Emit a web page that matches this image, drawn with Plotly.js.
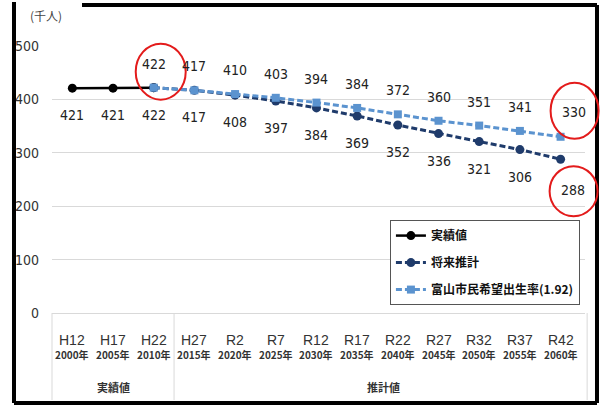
<!DOCTYPE html>
<html><head><meta charset="utf-8">
<script src="https://cdn.plot.ly/plotly-3.0.1.min.js"></script>
<style>html,body{margin:0;padding:0;background:#fff}#c{width:605px;height:412px}</style>
</head><body><div id="c"></div>
<script>
const categories = ["H12","H17","H22","H27","R2","R7","R12","R17","R22","R27","R32","R37","R42"];
const yearLabels = ["2000年","2005年","2010年","2015年","2020年","2025年","2030年","2035年","2040年","2045年","2050年","2055年","2060年"];
const actual = [421, 421, 422, null, null, null, null, null, null, null, null, null, null];
const projection = [null, null, 422, 417, 408, 397, 384, 369, 352, 336, 321, 306, 288];
const hope = [null, null, 422, 417, 410, 403, 394, 384, 372, 360, 351, 341, 330];
const seriesNames = ["実績値", "将来推計", "富山市民希望出生率(1.92)"];
const groupLabels = ["実績値", "推計値"];
const yTicks = [0, 100, 200, 300, 400, 500];

const cjk = "'Noto Sans CJK JP', sans-serif";
const narrow = "'Liberation Sans Narrow', 'DejaVu Sans Condensed', sans-serif";
const cNavy = "#1f3b6b", cLight = "#5b93cf";
const xRange = [-0.5, 12.6], yRange = [0, 500];

const traces = [
  {x: categories, y: actual, name: seriesNames[0], mode: "lines+markers", legendgroup: "a",
   line: {color: "#000", width: 2.5}, marker: {symbol: "circle", size: 9, color: "#000"}},
  {x: categories, y: projection, name: seriesNames[1], mode: "lines+markers", legendgroup: "b",
   line: {color: cNavy, width: 3, dash: "6px,3px"}, marker: {symbol: "circle", size: 9, color: cNavy}},
  {x: categories, y: hope, name: seriesNames[2], mode: "lines+markers", legendgroup: "c",
   line: {color: cLight, width: 3, dash: "6px,3px"}, marker: {symbol: "square", size: 8, color: cLight}}
];

const ann = [];
const lblFont = {family: narrow, size: 14, color: "#222"};
actual.forEach((v, i) => { if (v !== null) ann.push({x: categories[i], y: v, xref: "x", yref: "y", text: String(v), showarrow: false, yshift: -27, font: lblFont}); });
projection.forEach((v, i) => { if (v !== null && i > 2) ann.push({x: categories[i], y: v, xref: "x", yref: "y", text: String(v), showarrow: false, yshift: (i === 12 ? -31 : -27), xshift: (i === 12 ? 12 : 0), font: lblFont}); });
hope.forEach((v, i) => { if (v !== null) ann.push({x: categories[i], y: v, xref: "x", yref: "y", text: String(v), showarrow: false, yshift: (i === 12 ? 25 : 24), xshift: (i === 12 ? 13 : 0), font: lblFont}); });
categories.forEach((c, i) => {
  ann.push({x: i, y: -0.101, xref: "x", yref: "paper", xanchor: "center", yanchor: "middle", text: c, showarrow: false, font: {family: "'Liberation Sans', Arial, sans-serif", size: 14, color: "#333"}});
  ann.push({x: i, y: -0.157, xref: "x", yref: "paper", xanchor: "center", yanchor: "middle", text: yearLabels[i], showarrow: false, font: {family: cjk, size: 10, color: "#333", weight: "bold"}});
});
ann.push({x: 1, y: -0.277, xref: "x", yref: "paper", xanchor: "center", yanchor: "middle", text: groupLabels[0], showarrow: false, font: {family: cjk, size: 11, color: "#333", weight: "bold"}});
ann.push({x: 7.65, y: -0.277, xref: "x", yref: "paper", xanchor: "center", yanchor: "middle", text: groupLabels[1], showarrow: false, font: {family: cjk, size: 11, color: "#333", weight: "bold"}});
ann.push({x: -0.011, y: 1.116, xref: "paper", yref: "paper", xanchor: "center", yanchor: "middle", text: "(千人)", showarrow: false, font: {family: cjk, size: 12, color: "#444"}});

// paper-fraction helpers using the axis ranges (so highlight rings are not clipped)
const px = i => (i - xRange[0]) / (xRange[1] - xRange[0]);
const py = v => (v - yRange[0]) / (yRange[1] - yRange[0]);

const red = {color: "#e31b1b", width: 2};
const shapes = [
  // frame
  {type: "line", xref: "paper", yref: "paper", x0: -0.0713, x1: -0.0713, y0: 1.165, y1: -0.337, line: {color: "#000", width: 4}},
  {type: "line", xref: "paper", yref: "paper", x0: 0.0563, x1: 1.0225, y0: 1.1536, y1: 1.1536, line: {color: "#000", width: 4}},
  {type: "line", xref: "paper", yref: "paper", x0: 1.0225, x1: 1.0225, y0: 1.1536, y1: -0.337, line: {color: "#000", width: 4}},
  {type: "line", xref: "paper", yref: "paper", x0: -0.0713, x1: 1.0225, y0: -0.337, y1: -0.337, line: {color: "#000", width: 4}},
  // table lines
  {type: "line", xref: "paper", yref: "paper", x0: 0, x1: 0, y0: 0, y1: -0.326, line: {color: "#d9d9d9", width: 1}},
  {type: "line", xref: "x", yref: "paper", x0: 2.5, x1: 2.5, y0: 0, y1: -0.326, line: {color: "#d9d9d9", width: 1}},
  {type: "line", xref: "paper", yref: "paper", x0: 1.004, x1: 1.004, y0: 0, y1: -0.326, line: {color: "#d9d9d9", width: 1}},
  // red circles
  {type: "circle", xref: "paper", yref: "paper", xsizemode: "pixel", ysizemode: "pixel", xanchor: px(2), yanchor: py(hope[2]), x0: -18, x1: 32, y0: -12, y1: 44, line: red},
  {type: "circle", xref: "paper", yref: "paper", xsizemode: "pixel", ysizemode: "pixel", xanchor: px(12), yanchor: py(hope[12]), x0: -10, x1: 38, y0: -2, y1: 54, line: red},
  {type: "circle", xref: "paper", yref: "paper", xsizemode: "pixel", ysizemode: "pixel", xanchor: px(12), yanchor: py(projection[12]), x0: -11, x1: 37, y0: -57, y1: -7, line: red}
];

const layout = {
  width: 605, height: 412,
  margin: {l: 52, r: 20, t: 46, b: 99},
  paper_bgcolor: "#fff", plot_bgcolor: "#fff",
  showlegend: true,
  legend: {x: 0.634, y: 0.348, xanchor: "left", yanchor: "top", bgcolor: "#fff", bordercolor: "#555", borderwidth: 1,
           font: {family: cjk, size: 12, color: "#111", weight: "bold"}, tracegroupgap: 8, traceorder: "grouped"},
  xaxis: {type: "category", range: xRange, showticklabels: false, showgrid: false, zeroline: false, ticks: "", showline: false, fixedrange: true},
  yaxis: {range: yRange, tickvals: yTicks, ticktext: yTicks.map(String), showgrid: true, gridcolor: "#d9d9d9", gridwidth: 1,
          zeroline: true, zerolinecolor: "#d9d9d9", zerolinewidth: 1, showline: false, ticks: "", ticklabelstandoff: 12,
          tickfont: {family: narrow, size: 14, color: "#333"}},
  annotations: ann,
  shapes: shapes
};
Plotly.newPlot("c", traces, layout, {displayModeBar: false, staticPlot: true});
</script></body></html>
